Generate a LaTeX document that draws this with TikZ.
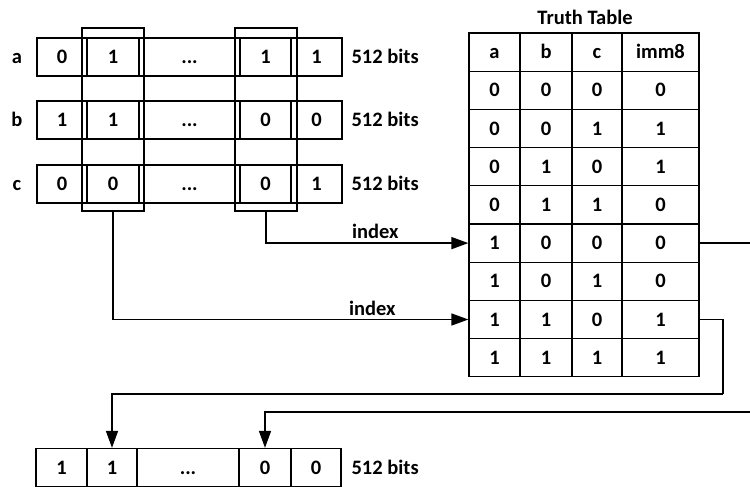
\documentclass[tikz,border=0pt]{standalone}
\usepackage{fontspec}
\setmainfont{Carlito}
\usetikzlibrary{arrows.meta}
\tikzset{
  txt/.style={font=\bfseries\fontsize{20.5}{23}\selectfont, text height=13pt, text depth=0pt},
  bit/.style={draw, line width=1.3pt, rectangle, inner sep=0pt, minimum height=38pt, txt},
  tcell/.style={draw, line width=1.3pt, rectangle, inner sep=0pt, minimum height=38.2pt, txt},
  sel/.style={draw, line width=1.2pt, rectangle, inner sep=0pt, minimum width=62pt, minimum height=183pt},
  link/.style={line width=1.6pt, -{Triangle[length=17pt,width=12pt]}},
  wire/.style={line width=1.6pt}
}
\begin{document}
\begin{tikzpicture}[x=1pt,y=-1pt]
  \useasboundingbox (0,0) rectangle (750,487);
  % input vectors
  \foreach \n/\y/\p/\q/\r/\s in {a/57/0/1/1/1, b/120/1/1/0/0, c/184/0/0/0/1}{
    \node[txt] (l\n) at (17,\y) {\n};
    \node[bit, minimum width=50pt] (\n1) at (62,\y) {\p};
    \node[bit, minimum width=52pt] (\n2) at (113,\y) {\q};
    \node[bit, minimum width=101pt] (\n3) at (189.5,\y) {...};
    \node[bit, minimum width=51pt] (\n4) at (265.5,\y) {\r};
    \node[bit, minimum width=51pt] (\n5) at (316.5,\y) {\s};
    \node[txt, anchor=west] (w\n) at (348,\y) {512 bits};
  }
  % selected bit positions
  \node[sel] (selA) at (113,119.5) {};
  \node[sel] (selB) at (266,119.5) {};
  % truth table
  \node[txt] (title) at (585,18) {Truth Table};
  \foreach \p/\q/\r/\s [count=\i] in {a/b/c/imm8, 0/0/0/0, 0/0/1/1, 0/1/0/1, 0/1/1/0,
      1/0/0/0, 1/0/1/0, 1/1/0/1, 1/1/1/1}{
    \node[tcell, minimum width=51pt] (t\i a) at (494.5,{33+38.2*(\i-0.5)}) {\p};
    \node[tcell, minimum width=52pt] (t\i b) at (546,{33+38.2*(\i-0.5)}) {\q};
    \node[tcell, minimum width=50pt] (t\i c) at (597,{33+38.2*(\i-0.5)}) {\r};
    \node[tcell, minimum width=77pt] (t\i m) at (660.5,{33+38.2*(\i-0.5)}) {\s};
  }
  % output vector
  \node[bit, minimum width=51pt] (o1) at (61.5,467.5) {1};
  \node[bit, minimum width=50pt] (o2) at (112,467.5) {1};
  \node[bit, minimum width=102pt] (o3) at (188,467.5) {...};
  \node[bit, minimum width=52pt] (o4) at (265,467.5) {0};
  \node[bit, minimum width=50pt] (o5) at (316,467.5) {0};
  \node[txt, anchor=west] (wo) at (348,468) {512 bits};
  % connections
  \coordinate (turnA) at (752,412);
  \coordinate (turnB) at (723,394);
  \draw[link] (selB.south) |- node[txt, above, pos=0.77] {index} (t6a.west);
  \draw[link] (selA.south) |- node[txt, above, pos=0.865] {index} (t8a.west);
  \draw[wire] (t6m.east) -| (turnA);
  \draw[link] (turnA) -| (o4.north);
  \draw[wire] (t8m.east) -| (turnB);
  \draw[link] (turnB) -| (o2.north);
\end{tikzpicture}
\end{document}
